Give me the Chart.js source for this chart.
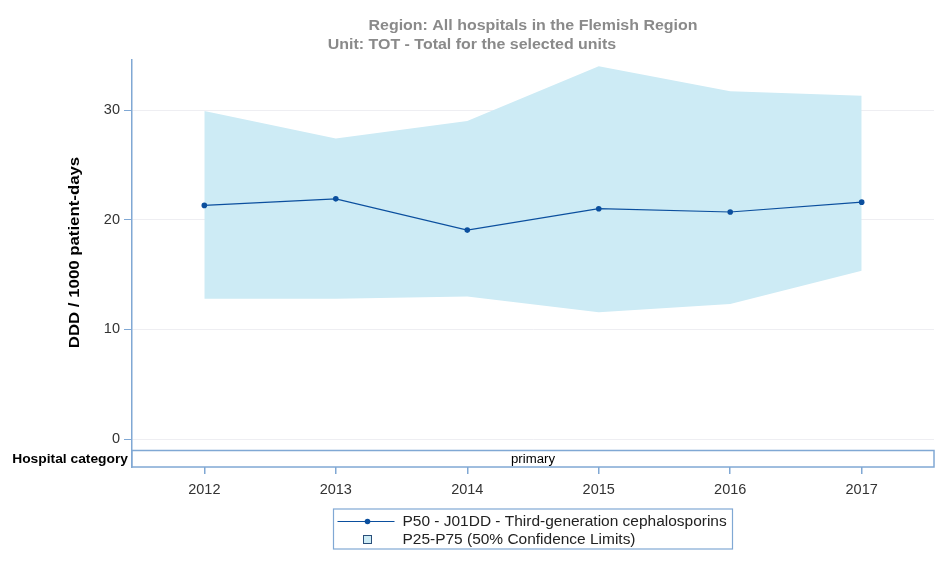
<!DOCTYPE html>
<html>
<head>
<meta charset="utf-8">
<script src="https://cdn.jsdelivr.net/npm/chart.js@4/dist/chart.umd.min.js"></script>
<style>
html,body{margin:0;padding:0;background:#fff;}
#wrap{width:945px;height:563px;position:relative;}
</style>
</head>
<body>
<div id="wrap"><canvas id="c" width="945" height="563"></canvas></div>
<script>
const years = ['2012','2013','2014','2015','2016','2017'];
const p50 = [21.3, 21.9, 19.05, 21.0, 20.7, 21.6];
const p75 = [29.9, 27.4, 29.0, 34.0, 31.7, 31.3];
const p25 = [12.8, 12.8, 13.0, 11.55, 12.3, 15.35];
const yTicks = [0, 10, 20, 30];
const titleLines = ['Region: All hospitals in the Flemish Region', 'Unit: TOT - Total for the selected units'];
const yTitle = 'DDD / 1000 patient-days';
const stripLabel = 'Hospital category';
const stripValue = 'primary';
const seriesLabel = 'P50 - J01DD - Third-generation cephalosporins';
const bandLabel = 'P25-P75 (50% Confidence Limits)';

const AXIS = '#80a8d4';
const LINE = '#0b4f9e';
const FILL = '#cdebf5';
const FONT = '"Liberation Sans", Arial, sans-serif';

const pts = arr => arr.map((v, i) => ({x: i, y: v}));

// draw text horizontally stretched by sx (text is still real canvas text)
function wideText(ctx, text, x, y, align, sx) {
  ctx.save();
  ctx.translate(x, y);
  ctx.scale(sx, 1);
  ctx.textAlign = align;
  ctx.fillText(text, 0, 0);
  ctx.restore();
}

const decor = {
  id: 'decor',
  afterDraw(chart) {
    const ctx = chart.ctx, a = chart.chartArea;
    const cx = (a.left + a.right) / 2;
    ctx.save();
    ctx.textBaseline = 'middle';
    // titles
    ctx.fillStyle = '#8a8a8a';
    ctx.font = 'bold 14px ' + FONT;
    wideText(ctx, titleLines[0], cx, a.top - 34, 'center', 1.14);
    wideText(ctx, titleLines[1], cx - 61, a.top - 15, 'center', 1.14);
    // y title
    const ys = chart.scales.y;
    const ymid = (ys.getPixelForValue(0) + a.top) / 2 + 3;
    ctx.save();
    ctx.translate(75, ymid);
    ctx.rotate(-Math.PI / 2);
    ctx.fillStyle = '#000';
    ctx.font = 'bold 14px ' + FONT;
    wideText(ctx, yTitle, 0, 0, 'center', 1.2);
    ctx.restore();
    // strip
    const sTop = a.bottom - 16.5;
    ctx.fillStyle = '#fff';
    ctx.fillRect(a.left, sTop, a.right - a.left, a.bottom - sTop);
    ctx.strokeStyle = AXIS;
    ctx.lineWidth = 1.5;
    ctx.strokeRect(a.left, sTop, a.right - a.left, a.bottom - sTop);
    ctx.fillStyle = '#000';
    ctx.font = '12px ' + FONT;
    wideText(ctx, stripValue, cx, (sTop + a.bottom) / 2 + 1, 'center', 1.1);
    ctx.font = 'bold 12px ' + FONT;
    wideText(ctx, stripLabel, a.left - 4, (sTop + a.bottom) / 2 + 1, 'right', 1.15);
    // legend
    const lw = 399, lh = 40;
    const lx = cx - lw / 2, ly = a.bottom + 42;
    ctx.strokeStyle = AXIS;
    ctx.lineWidth = 1.2;
    ctx.strokeRect(lx, ly, lw, lh);
    const r1 = ly + 12.5, r2 = ly + 30.5;
    ctx.strokeStyle = LINE;
    ctx.lineWidth = 1.2;
    ctx.beginPath(); ctx.moveTo(lx + 4, r1); ctx.lineTo(lx + 61, r1); ctx.stroke();
    ctx.fillStyle = LINE;
    ctx.beginPath(); ctx.arc(lx + 34, r1, 2.8, 0, Math.PI * 2); ctx.fill();
    ctx.fillStyle = FILL;
    ctx.fillRect(lx + 30, r2 - 4, 8, 8);
    ctx.strokeStyle = '#2a4f7a';
    ctx.lineWidth = 1;
    ctx.strokeRect(lx + 30, r2 - 4, 8, 8);
    ctx.fillStyle = '#222';
    ctx.font = '14px ' + FONT;
    wideText(ctx, seriesLabel, lx + 69, r1 + 1, 'left', 1.105);
    wideText(ctx, bandLabel, lx + 69, r2 + 1, 'left', 1.105);
    ctx.restore();
  }
};

new Chart(document.getElementById('c'), {
  type: 'line',
  data: {
    datasets: [
      {label: seriesLabel, data: pts(p50), borderColor: LINE, backgroundColor: LINE, borderWidth: 1.2,
       pointRadius: 2.8, pointBorderWidth: 0, pointBackgroundColor: LINE, fill: false, order: 0, tension: 0},
      {label: bandLabel, data: pts(p75), borderWidth: 0, borderColor: 'rgba(0,0,0,0)', backgroundColor: FILL,
       pointRadius: 0, fill: '+1', order: 1, tension: 0},
      {label: 'P25', data: pts(p25), borderWidth: 0, borderColor: 'rgba(0,0,0,0)', backgroundColor: FILL,
       pointRadius: 0, fill: false, order: 1, tension: 0}
    ]
  },
  options: {
    responsive: false,
    animation: false,
    events: [],
    layout: {padding: {left: 0, right: 11, top: 60, bottom: 60}},
    plugins: {legend: {display: false}, title: {display: false}, tooltip: {enabled: false}},
    scales: {
      x: {
        type: 'linear', min: -0.55, max: 5.55,
        afterFit(s) { s.height = 36; },
        afterBuildTicks(s) { s.ticks = years.map((_, i) => ({value: i})); },
        grid: {drawOnChartArea: false, tickLength: 7, tickColor: AXIS, lineWidth: 1.5},
        border: {display: false},
        ticks: {callback: v => years[v], color: '#333', font: {size: 14.5, family: FONT}, padding: 7, maxRotation: 0}
      },
      y: {
        min: -2.553, max: 34.56,
        afterFit(s) { s.width = 132; },
        afterBuildTicks(s) { s.ticks = yTicks.map(v => ({value: v})); },
        grid: {color: '#eeeef2', tickColor: AXIS, tickLength: 8, lineWidth: 1},
        border: {display: true, color: AXIS, width: 1.5},
        ticks: {color: '#333', font: {size: 14.5, family: FONT}, padding: 4}
      }
    }
  },
  plugins: [decor]
});
</script>
</body>
</html>
